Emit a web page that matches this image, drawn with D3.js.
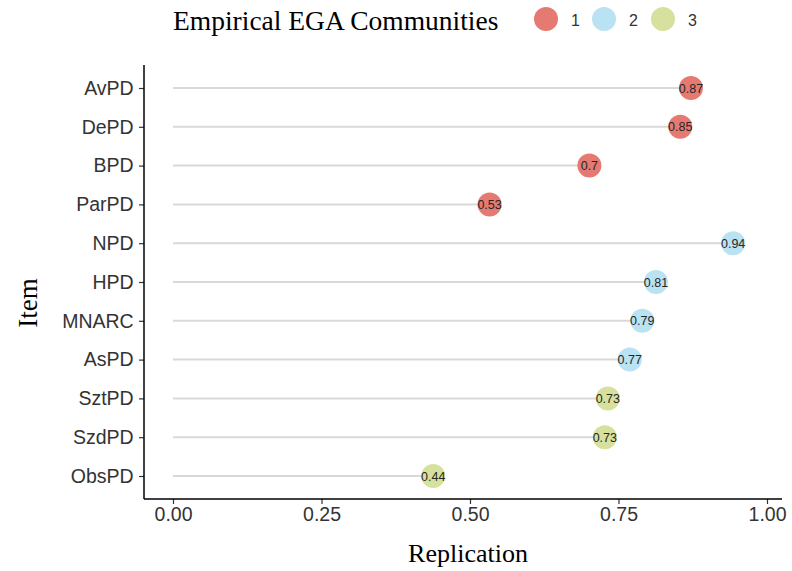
<!DOCTYPE html>
<html><head><meta charset="utf-8">
<script src="https://cdn.jsdelivr.net/npm/d3@7"></script>
<style>body{margin:0;background:#fff}</style>
</head><body>
<svg id="c" width="792" height="571"></svg>
<script>
const items = ["AvPD","DePD","BPD","ParPD","NPD","HPD","MNARC","AsPD","SztPD","SzdPD","ObsPD"];
const values = [0.872,0.854,0.701,0.533,0.943,0.813,0.790,0.769,0.732,0.727,0.438];
const communities = [1,1,1,1,2,2,2,2,3,3,3];
const xTicks = [0,0.25,0.5,0.75,1];
const legendLabels = [1,2,3];
const colors = {1:"#E57A72",2:"#B9E2F2",3:"#D7E19D"};

const svg = d3.select("#c");
const pLeft = 144, pRight = 782, pTop = 65, pBottom = 499;
const x = d3.scaleLinear().domain([0,1]).range([173,767]);
const y = d3.scalePoint().domain(items).range([88,476]);
const sans = "Liberation Sans, Arial, sans-serif";
const serif = "Liberation Serif, Times New Roman, serif";

// segments
svg.append("g").selectAll("line").data(items).join("line")
  .attr("x1", x(0)).attr("x2", (d,i)=>x(values[i]))
  .attr("y1", d=>y(d)).attr("y2", d=>y(d))
  .attr("stroke","#d9d9d9").attr("stroke-width",2);

// points
svg.append("g").selectAll("circle").data(items).join("circle")
  .attr("cx",(d,i)=>x(values[i])).attr("cy",d=>y(d)).attr("r",12)
  .attr("fill",(d,i)=>colors[communities[i]]);
svg.append("g").selectAll("text").data(items).join("text")
  .attr("x",(d,i)=>x(values[i])).attr("y",d=>y(d)+4.5)
  .attr("text-anchor","middle").attr("font-family",sans)
  .attr("font-size",12.5).attr("fill","#262626")
  .text((d,i)=>String(Math.round(values[i]*100)/100));

// axes
const xAxis = svg.append("g").attr("transform",`translate(0,${pBottom})`)
  .call(d3.axisBottom(x).tickValues(xTicks).tickFormat(d3.format(".2f")).tickSize(5).tickSizeOuter(0));
xAxis.select(".domain").remove();
xAxis.append("line").attr("x1",pLeft).attr("x2",pRight).attr("stroke","#000").attr("stroke-width",1.5);
const yAxis = svg.append("g").attr("transform",`translate(${pLeft},0)`)
  .call(d3.axisLeft(y).tickSize(5).tickSizeOuter(0));
yAxis.select(".domain").remove();
yAxis.append("line").attr("y1",pTop).attr("y2",pBottom).attr("stroke","#000").attr("stroke-width",1.5);
[xAxis,yAxis].forEach(a=>{
  a.selectAll(".tick line").attr("stroke","#333").attr("stroke-width",1.2);
  a.selectAll(".tick text").attr("font-family",sans)
   .attr("font-size",19.5).attr("fill","#333");
});
yAxis.selectAll(".tick text").attr("dx","-0.12em");

// titles
svg.append("text").attr("x",468).attr("y",562).attr("text-anchor","middle")
  .attr("font-family",serif).attr("font-size",26).attr("fill","#000")
  .text("Replication");
svg.append("text").attr("transform","translate(37,303) rotate(-90)").attr("text-anchor","middle")
  .attr("font-family",serif).attr("font-size",27).attr("fill","#000")
  .text("Item");

// legend
svg.append("text").attr("x",173).attr("y",30)
  .attr("font-family",serif).attr("font-size",27.5).attr("fill","#000")
  .text("Empirical EGA Communities");
const lx = [546,604,663];
const lg = svg.append("g").selectAll("g").data(legendLabels).join("g")
  .attr("transform",(d,i)=>`translate(${lx[i]},19)`);
lg.append("circle").attr("r",12).attr("fill",d=>colors[d]);
lg.append("text").attr("x",25).attr("y",7).attr("font-family",sans)
  .attr("font-size",16).attr("fill","#333").text(d=>d);
</script>
</body></html>
